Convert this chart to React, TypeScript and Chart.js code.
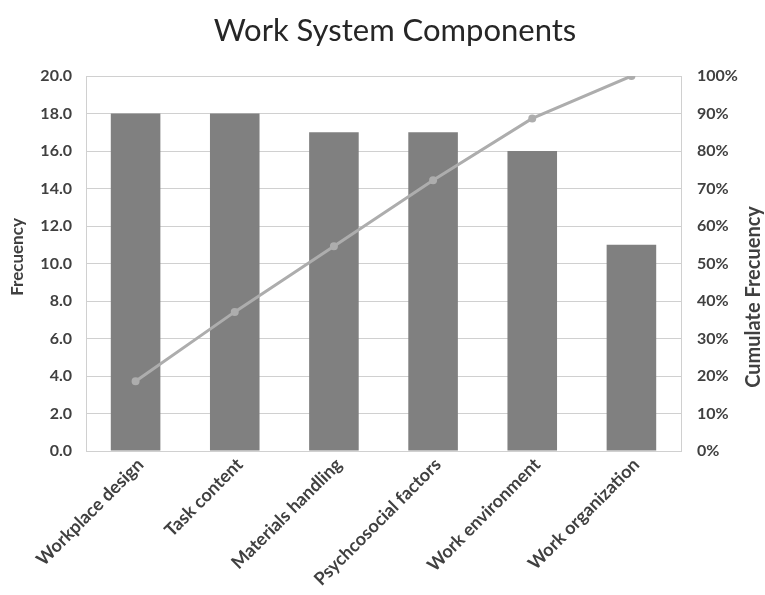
import React, { useEffect, useRef } from "react";
import { Chart, registerables } from "chart.js";

Chart.register(...registerables);

const categories = [
  "Workplace design",
  "Task content",
  "Materials handling",
  "Psychcosocial factors",
  "Work environment",
  "Work organization",
];
const frequency = [18, 18, 17, 17, 16, 11];
const cumulativePct = [18.6, 37.1, 54.6, 72.2, 88.7, 100];

const TITLE = "Work System Components";
const LEFT_TITLE = "Frecuency";
const RIGHT_TITLE = "Cumulate Frecuency";
const FONT = "Lato, 'Open Sans', sans-serif";

// Chart title and the two vertical axis titles (both read bottom-to-top)
const textPlugin = {
  id: "paretoTexts",
  afterDraw(chart: any) {
    const { ctx } = chart;
    ctx.save();
    ctx.fillStyle = "#262626";
    ctx.font = `31px ${FONT}`;
    ctx.textAlign = "center";
    ctx.textBaseline = "middle";
    ctx.fillText(TITLE, 395, 31);
    ctx.restore();

    ctx.save();
    ctx.fillStyle = "#404040";
    ctx.font = `bold 17px ${FONT}`;
    ctx.textAlign = "center";
    ctx.textBaseline = "middle";
    ctx.translate(18, 257);
    ctx.rotate(-Math.PI / 2);
    ctx.fillText(LEFT_TITLE, 0, 0);
    ctx.restore();

    ctx.save();
    ctx.fillStyle = "#404040";
    ctx.font = `bold 20px ${FONT}`;
    ctx.textAlign = "center";
    ctx.textBaseline = "middle";
    ctx.translate(754, 297);
    ctx.rotate(-Math.PI / 2);
    ctx.fillText(RIGHT_TITLE, 0, 0);
    ctx.restore();
  },
};

export default function App() {
  const ref = useRef<HTMLCanvasElement | null>(null);

  useEffect(() => {
    document.body.style.margin = "0";
    const canvas = ref.current;
    if (!canvas) return;
    const chart = new Chart(canvas, {
      type: "bar",
      data: {
        labels: categories,
        datasets: [
          {
            type: "line",
            label: "Cumulative",
            data: cumulativePct,
            yAxisID: "y1",
            borderColor: "#adadad",
            backgroundColor: "#adadad",
            borderWidth: 3,
            pointRadius: 2.5,
            pointHoverRadius: 2.5,
            tension: 0,
            order: 0,
          } as any,
          {
            type: "bar",
            label: "Frecuency",
            data: frequency,
            yAxisID: "y",
            backgroundColor: "#808080",
            borderWidth: 0,
            barPercentage: 0.5,
            categoryPercentage: 1,
            order: 1,
          },
        ],
      },
      plugins: [textPlugin],
      options: {
        responsive: false,
        animation: false,
        devicePixelRatio: 1,
        layout: { padding: { top: 76, left: 0, right: 0, bottom: 0 } },
        plugins: {
          legend: { display: false },
          title: { display: false },
          tooltip: { enabled: false },
        },
        scales: {
          x: {
            grid: { display: false, drawTicks: false },
            border: { display: true, color: "#d0d0d0", width: 1 },
            ticks: {
              color: "#404040",
              font: { family: FONT, size: 18, weight: "bold" },
              minRotation: 45,
              maxRotation: 45,
              padding: 3,
              labelOffset: 5,
            },
            afterFit(scale: any) {
              scale.height = 144;
            },
          },
          y: {
            position: "left",
            min: 0,
            max: 20,
            grid: { color: "#d0d0d0", drawTicks: false },
            border: { display: true, color: "#d0d0d0" },
            ticks: {
              stepSize: 2,
              padding: 14,
              color: "#404040",
              font: { family: FONT, size: 16, weight: "bold" },
              callback: (v: any) => Number(v).toFixed(1),
            },
            afterFit(scale: any) {
              scale.width = 86;
            },
          },
          y1: {
            position: "right",
            min: 0,
            max: 100,
            grid: { display: false, drawTicks: false },
            border: { display: true, color: "#d0d0d0" },
            ticks: {
              stepSize: 10,
              padding: 16,
              color: "#404040",
              font: { family: FONT, size: 16, weight: "bold" },
              callback: (v: any) => `${v}%`,
            },
            afterFit(scale: any) {
              scale.width = 84;
            },
          },
        },
      },
    });
    return () => chart.destroy();
  }, []);

  return (
    <div style={{ width: 765, height: 595, background: "#fff" }}>
      <canvas ref={ref} width={765} height={595} style={{ display: "block", width: 765, height: 595 }} />
    </div>
  );
}
